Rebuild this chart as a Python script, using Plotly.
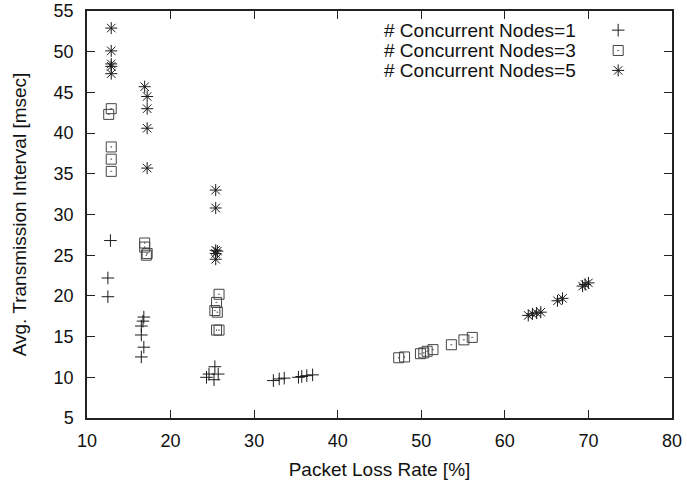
import plotly.graph_objects as go

# Packet loss rate [%] vs. average transmission interval [msec]
loss_n1 = [12.8, 12.5, 12.5, 16.8, 16.7, 16.5, 16.5, 16.8, 16.5,
           24.3, 24.6, 25.2, 25.3, 25.7, 32.3, 33.0, 33.6, 35.3, 35.7, 36.3, 37.0]
intv_n1 = [26.8, 22.2, 19.9, 17.4, 16.9, 16.3, 15.2, 13.7, 12.5,
           10.0, 10.4, 9.7, 11.3, 10.4, 9.6, 9.8, 9.9, 10.0, 10.1, 10.2, 10.3]

loss_n3 = [12.6, 12.9, 12.9, 12.9, 12.9, 16.9, 16.9, 17.2, 17.1,
           25.8, 25.5, 25.3, 25.6, 25.5, 25.8,
           47.3, 48.0, 49.9, 50.3, 50.7, 51.4, 53.6, 55.1, 56.1]
intv_n3 = [42.3, 43.0, 38.3, 36.8, 35.3, 26.5, 26.0, 25.2, 25.0,
           20.2, 19.2, 18.2, 18.0, 15.8, 15.8,
           12.4, 12.5, 12.9, 13.0, 13.2, 13.4, 14.0, 14.6, 14.9]

loss_n5 = [12.9, 12.9, 12.9, 12.9, 12.9, 16.9, 17.2, 17.2, 17.2, 17.2,
           25.4, 25.4, 25.4, 25.6, 25.4, 25.4,
           62.8, 63.3, 63.8, 64.3, 66.3, 66.9, 69.3, 69.6, 70.0]
intv_n5 = [52.9, 50.1, 48.5, 48.2, 47.3, 45.7, 44.5, 43.0, 40.6, 35.7,
           33.0, 30.8, 25.6, 25.5, 25.2, 24.5,
           17.6, 17.8, 17.9, 18.0, 19.4, 19.7, 21.2, 21.4, 21.6]

series_names = ["# Concurrent Nodes=1", "# Concurrent Nodes=3", "# Concurrent Nodes=5"]
symbols = ["cross-thin-open", "square-open-dot", "asterisk-open"]
colors = ["#1a1a1a", "#444444", "#1a1a1a"]
sizes = [9, 10, 10]

x_ticks = [10, 20, 30, 40, 50, 60, 70, 80]
y_ticks = [5, 10, 15, 20, 25, 30, 35, 40, 45, 50, 55]

FONT = "Liberation Sans, Arial, Helvetica, sans-serif"

fig = go.Figure()
for xs, ys, name, sym, col, sz in zip(
        [loss_n1, loss_n3, loss_n5], [intv_n1, intv_n3, intv_n5],
        series_names, symbols, colors, sizes):
    fig.add_trace(go.Scatter(
        x=xs, y=ys, mode="markers", name=name, showlegend=False,
        marker=dict(symbol=sym, size=sz, color=col,
                    line=dict(width=1, color=col)),
    ))

# key: labels on the left, sample symbols on the right (overlay axes 0..1)
key_y = [0.953, 0.903, 0.854]
for i, (name, sym, col, sz) in enumerate(zip(series_names, symbols, colors, sizes)):
    fig.add_trace(go.Scatter(
        x=[0.908], y=[key_y[i]], mode="markers", xaxis="x2", yaxis="y2",
        showlegend=False, hoverinfo="skip",
        marker=dict(symbol=sym, size=sz, color=col, line=dict(width=1, color=col)),
    ))
    fig.add_annotation(
        x=0.84, y=key_y[i], xref="x2", yref="y2", text=name, showarrow=False,
        xanchor="right", yanchor="middle",
        font=dict(family=FONT, size=19, color="#111"),
    )

axis_common = dict(
    showgrid=False, zeroline=False, showline=True, linecolor="#222", linewidth=1.5,
    mirror="ticks", ticks="inside", ticklen=8, tickwidth=1.2, tickcolor="#222",
    tickfont=dict(family=FONT, size=18, color="#111"), automargin=False,
)

fig.update_layout(
    width=687, height=483,
    margin=dict(l=87, r=15, t=11, b=65),
    paper_bgcolor="white", plot_bgcolor="white",
    xaxis=dict(range=[10, 80], tickvals=x_ticks, ticklabelstandoff=6,
               title=dict(text="Packet Loss Rate [%]", standoff=12,
                          font=dict(family=FONT, size=19, color="#111")),
               **axis_common),
    yaxis=dict(range=[5, 55], tickvals=y_ticks, ticklabelstandoff=8,
               title=dict(text="Avg. Transmission Interval [msec]", standoff=22,
                          font=dict(family=FONT, size=19, color="#111")),
               **axis_common),
    xaxis2=dict(range=[0, 1], overlaying="x", visible=False, fixedrange=True),
    yaxis2=dict(range=[0, 1], overlaying="y", visible=False, fixedrange=True),
    showlegend=False,
)

fig.write_html("out.html")
